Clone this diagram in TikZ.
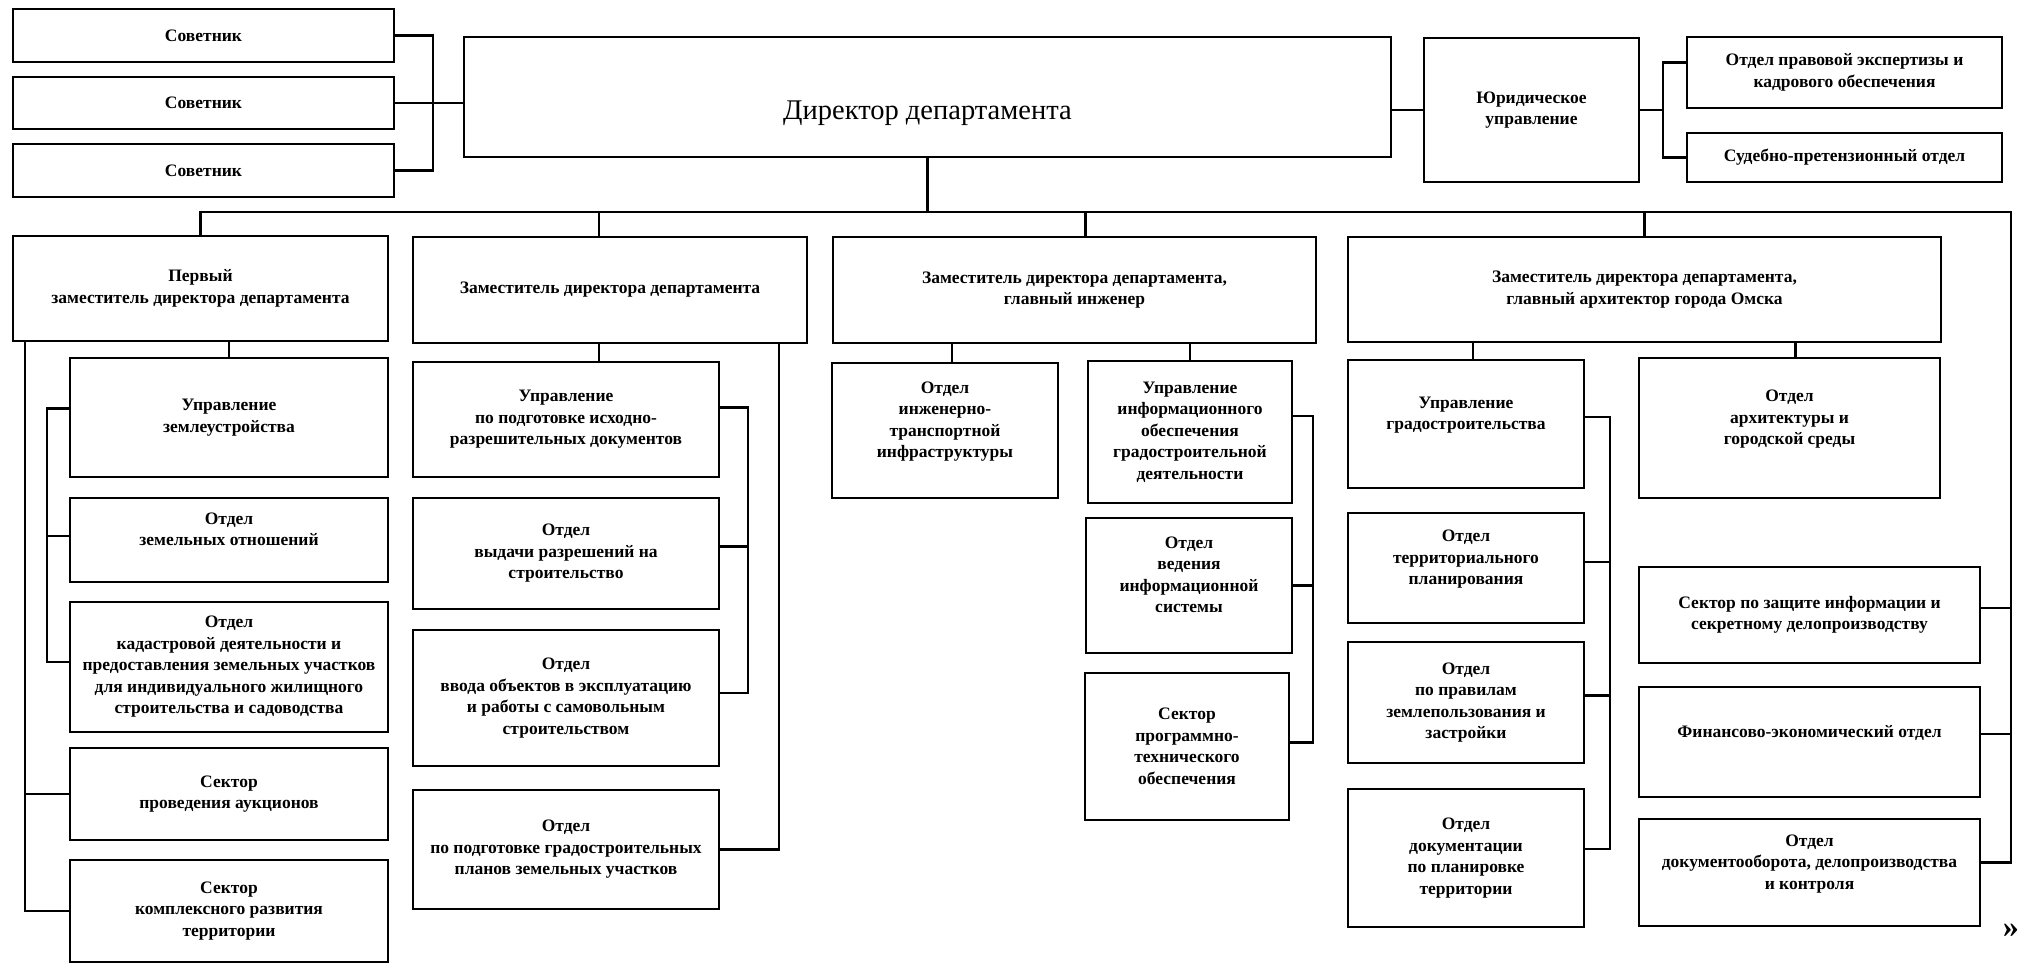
\documentclass[tikz,border=0pt]{standalone}
\usepackage{fontspec}
\setmainfont{Liberation Serif}

\begin{document}
\begin{tikzpicture}[x=1pt, y=-1pt,
        box/.style 2 args={draw, line width=2.6pt, outer sep=0pt, inner sep=2pt, align=center,
            anchor=north west, minimum width=#1, minimum height=#2,
            font=\fontsize{17.5}{21.5}\selectfont\bfseries},
        link/.style={line width=2.3pt, line cap=rect}]
    \useasboundingbox (0,0) rectangle (2019,964);
    % top row
    \node[box={381}{53}] (sovA) at (13,9) {Советник};
    \node[box={381}{52}] (sovB) at (13,77) {Советник};
    \node[box={381}{53}] (sovC) at (13,144) {Советник};
    \node[box={927}{120}, font=\fontsize{28.5}{32}\selectfont, text height=52pt, text depth=7pt] (dir) at (464,37) {Директор департамента};
    \node[box={215}{144}] (jur) at (1424,38) {Юридическое\\управление};
    \node[box={315}{71}] (pravo) at (1687,37) {Отдел правовой экспертизы и\\кадрового обеспечения};
    \node[box={315}{49}] (sud) at (1687,133) {Судебно-претензионный отдел};
    % deputies
    \node[box={375}{105}] (depA) at (13,236) {Первый\\заместитель директора департамента};
    \node[box={394}{106}] (depB) at (413,237) {Заместитель директора департамента};
    \node[box={483}{106}] (depC) at (833,237) {Заместитель директора департамента,\\главный инженер};
    \node[box={593}{105}] (depD) at (1348,237) {Заместитель директора департамента,\\главный архитектор города Омска};
    % first deputy
    \node[box={318}{119}] (zemUpr) at (70,358) {Управление\\землеустройства};
    \node[box={318}{84}] (zemOtd) at (70,498) {Отдел\\земельных отношений\\\mbox{}};
    \node[box={318}{130}] (kadastr) at (70,602) {Отдел\\кадастровой деятельности и\\предоставления земельных участков\\для индивидуального жилищного\\строительства и садоводства};
    \node[box={318}{92}] (aukc) at (70,748) {Сектор\\проведения аукционов};
    \node[box={318}{102}] (kompl) at (70,860) {Сектор\\комплексного развития\\территории};
    % second deputy
    \node[box={306}{115}] (ishod) at (413,362) {Управление\\по подготовке исходно-\\разрешительных документов};
    \node[box={306}{111}] (vydacha) at (413,498) {Отдел\\выдачи разрешений на\\строительство};
    \node[box={306}{136}] (vvod) at (413,630) {Отдел\\ввода объектов в эксплуатацию\\и работы с самовольным\\строительством};
    \node[box={306}{119}] (gpzu) at (413,790) {Отдел\\по подготовке градостроительных\\планов земельных участков};
    % third deputy
    \node[box={226}{135}] (inzh) at (832,363) {Отдел\\инженерно-\\транспортной\\инфраструктуры\\\mbox{}};
    \node[box={204}{142}] (infUpr) at (1088,361) {Управление\\информационного\\обеспечения\\градостроительной\\деятельности};
    \node[box={206}{135}] (vedenie) at (1086,518) {Отдел\\ведения\\информационной\\системы\\\mbox{}};
    \node[box={204}{147}] (progr) at (1085,673) {Сектор\\программно-\\технического\\обеспечения};
    % fourth deputy
    \node[box={236}{128}] (gradUpr) at (1348,360) {Управление\\градостроительства\\\mbox{}};
    \node[box={236}{110}] (terr) at (1348,513) {Отдел\\территориального\\планирования\\\mbox{}};
    \node[box={236}{121}] (pzz) at (1348,642) {Отдел\\по правилам\\землепользования и\\застройки};
    \node[box={236}{138}] (dpt) at (1348,789) {Отдел\\документации\\по планировке\\территории};
    \node[box={301}{140}] (arch) at (1639,358) {Отдел\\архитектуры и\\городской среды\\\mbox{}};
    % right column
    \node[box={341}{96}] (zashch) at (1639,567) {Сектор по защите информации и\\секретному делопроизводству};
    \node[box={341}{110}] (fin) at (1639,687) {Финансово-экономический отдел\\\mbox{}};
    \node[box={341}{107}] (doc) at (1639,819) {Отдел\\документооборота, делопроизводства\\и контроля\\\mbox{}};
    \node[font=\fontsize{32}{36}\selectfont\bfseries, anchor=east, inner sep=0pt] (more) at (2019,931) {»};

    \coordinate (busR) at (2011,212);
    % connectors
    \draw[link] (sovA.east) -- ++(39,0) |- (sovC.east);
    \draw[link] (sovB.east) -- (sovB.east -| dir.west);
    \draw[link] (jur.west) -- (jur.west -| dir.east);
    \draw[link] (jur.east) -- ++(24,0);
    \draw[link] ([yshift=10pt]pravo.west) -- ++(-24,0) |- (sud.west);
    \draw[link] (dir.south) -- (dir.south |- busR);
    \draw[link] (depA.north) |- (busR) |- ([yshift=10pt]doc.east);
    \draw[link] ([xshift=-11pt]depB.north) -- ++(0,-25);
    \draw[link] ([xshift=11pt]depC.north) -- ++(0,-25);
    \draw[link] (depD.north) -- (depD.north |- busR);
    \draw[link] ([yshift=7pt]zashch.east) -- ++(31,0);
    \draw[link] ([yshift=8pt]fin.east) -- ++(31,0);

    \draw[link] (depA.south -| zemUpr.north) -- (zemUpr.north);
    \draw[link] ([yshift=9pt]zemUpr.west) -- ++(-23,0) |- ([yshift=5pt]kadastr.west);
    \draw[link] ([yshift=4pt]zemOtd.west) -- ++(-23,0);
    \draw[link] ([xshift=12pt]depA.south west) |- (kompl.west);
    \draw[link] (aukc.west) -- ++(-45,0);

    \draw[link] ([xshift=-11pt]depB.south) -- ([xshift=-11pt]depB.south |- ishod.north);
    \draw[link] ([yshift=12pt]ishod.east) -- ++(29,0) |- ([yshift=5pt]vvod.east);
    \draw[link] ([yshift=7pt]vydacha.east) -- ++(29,0);
    \draw[link] ([xshift=-28pt]depB.south east) |- (gpzu.east);

    \draw[link] ([xshift=7pt]inzh.north) -- ([xshift=7pt]inzh.north |- depC.south);
    \draw[link] (infUpr.north) -- (infUpr.north |- depC.south);
    \draw[link] ([yshift=16pt]infUpr.east) -- ++(21,0) |- ([yshift=4pt]progr.east);
    \draw[link] (vedenie.east) -- ++(21,0);

    \draw[link] ([xshift=7pt]gradUpr.north) -- ([xshift=7pt]gradUpr.north |- depD.south);
    \draw[link] ([xshift=6pt]arch.north) -- ([xshift=6pt]arch.north |- depD.south);
    \draw[link] ([yshift=7pt]gradUpr.east) -- ++(26,0) |- ([yshift=9pt]dpt.east);
    \draw[link] ([yshift=6pt]terr.east) -- ++(26,0);
    \draw[link] ([yshift=7pt]pzz.east) -- ++(26,0);
\end{tikzpicture}
\end{document}
